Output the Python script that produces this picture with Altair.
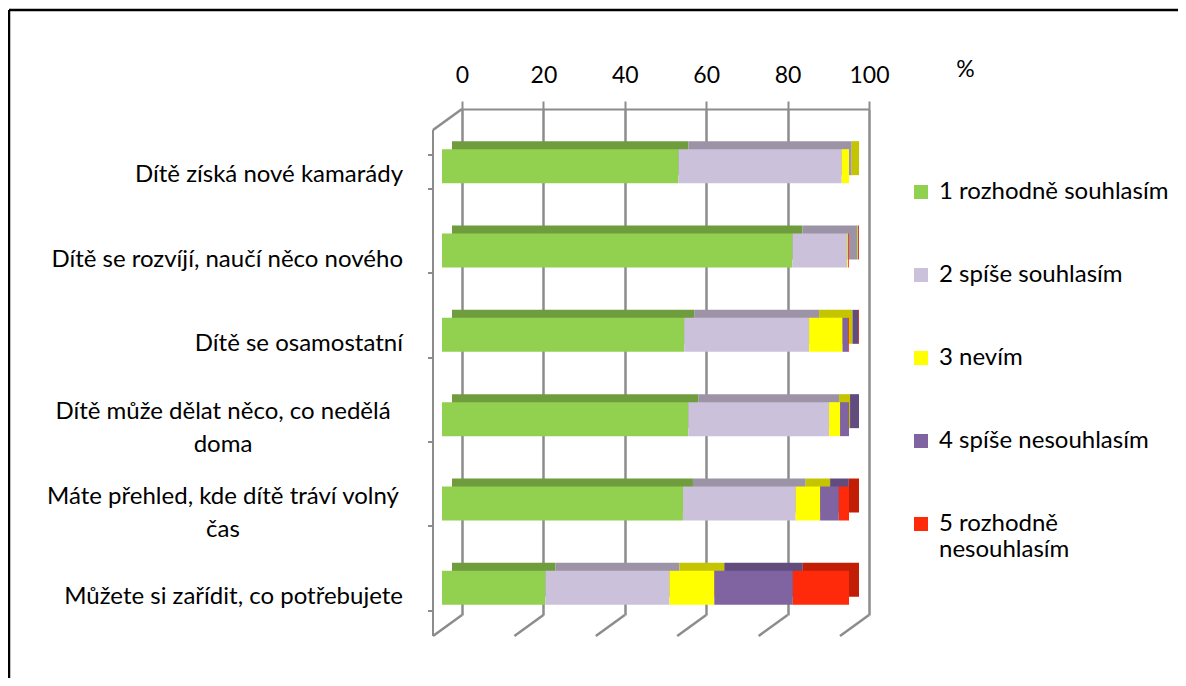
import altair as alt
import pandas as pd

categories = [
    "Dítě získá nové kamarády",
    "Dítě se rozvíjí, naučí něco nového",
    "Dítě se osamostatní",
    "Dítě může dělat něco, co nedělá doma",
    "Máte přehled, kde dítě tráví volný čas",
    "Můžete si zařídit, co potřebujete",
]
series = [
    "1 rozhodně souhlasím",
    "2 spíše souhlasím",
    "3 nevím",
    "4 spíše nesouhlasím",
    "5 rozhodně nesouhlasím",
]
v1 = [58.1, 86.1, 59.5, 60.5, 59.2, 25.4]
v2 = [40.1, 13.5, 30.7, 34.6, 27.7, 30.5]
v3 = [1.8, 0.2, 8.2, 2.7, 6.0, 11.0]
v4 = [0.0, 0.0, 1.4, 2.2, 4.6, 19.3]
v5 = [0.0, 0.2, 0.2, 0.0, 2.5, 13.8]
x_ticks = [0, 20, 40, 60, 80, 100]

front_colors = ["#92D050", "#CCC1DA", "#FFFF00", "#8064A2", "#FF2A0A"]
top_colors = ["#6F9D3D", "#9C93A6", "#C4C400", "#624C7E", "#C21E06"]

rows = []
for si, (s, vals) in enumerate(zip(series, [v1, v2, v3, v4, v5])):
    for c, v in zip(categories, vals):
        rows.append({"cat": c, "series": s, "idx": si, "value": v})
df = pd.DataFrame(rows)
ticks_df = pd.DataFrame({"t": x_ticks})

FONT = "Lato"
GRID = "#8C8C8C"

multi_a = "Dítě může dělat něco, co nedělá doma"
multi_b = "Máte přehled, kde dítě tráví volný čas"
label_expr = (
    f"datum.label == '{multi_a}' ? ['Dítě může dělat něco, co nedělá', 'doma'] : "
    f"datum.label == '{multi_b}' ? ['Máte přehled, kde dítě tráví volný', 'čas'] : datum.label"
)
is_multi = f"datum.value == '{multi_a}' || datum.value == '{multi_b}'"

x_axis = alt.Axis(
    orient="top", values=x_ticks, grid=True, gridColor=GRID, gridWidth=2.5,
    domainColor=GRID, domainWidth=2, tickColor=GRID, tickWidth=2, tickSize=8,
    labelFont=FONT, labelFontSize=23, labelColor="black", labelPadding=14,
    labelFlush=False,
    title="%", titleFont=FONT, titleFontSize=23, titleFontWeight="normal",
    titleColor="black", titleAngle=0, titleX=503, titleY=-40,
    titleAlign="center", titleBaseline="middle",
)
y_axis = alt.Axis(
    title=None, offset=50, translate=21, tickBand="extent",
    domainColor=GRID, domainWidth=2, tickColor=GRID, tickWidth=2, tickSize=5,
    labelFont=FONT, labelFontSize=24, labelColor="black", labelLimit=0,
    labelLineHeight=33, labelExpr=label_expr,
    labelAlign={"condition": {"test": is_multi, "value": "center"}, "value": "right"},
    labelPadding={"condition": {"test": is_multi, "value": 205}, "value": 25},
    labelOffset={"condition": {"test": is_multi, "value": -13}, "value": 3},
)

x_scale = alt.Scale(domain=[0, 100], nice=False)
y_scale = alt.Scale(paddingInner=0.597, paddingOuter=0.2985)

base = alt.Chart(df)

back = base.mark_bar(xOffset=-10, x2Offset=-10, yOffset=7, y2Offset=7).encode(
    x=alt.X("value:Q", stack="zero", scale=x_scale, axis=x_axis),
    y=alt.Y("cat:N", sort=categories, scale=y_scale, axis=y_axis),
    color=alt.Color("series:N", sort=series,
                    scale=alt.Scale(domain=series, range=top_colors), legend=None),
    order=alt.Order("idx:Q"),
)

front = base.mark_bar(xOffset=-20, x2Offset=-20, yOffset=15, y2Offset=15).encode(
    x=alt.X("value:Q", stack="zero", scale=x_scale),
    y=alt.Y("cat:N", sort=categories, scale=y_scale),
    color=alt.Color(
        "series:N", sort=series,
        scale=alt.Scale(domain=series, range=front_colors),
        legend=alt.Legend(
            title=None, orient="none", legendX=447, legendY=71, padding=0,
            symbolType="square", symbolSize=196, symbolStrokeWidth=0,
            labelFont=FONT, labelFontSize=24, labelColor="black", labelOffset=6,
            labelLimit=0, rowPadding=59,
            labelExpr="datum.label == '5 rozhodně nesouhlasím' ? ['5 rozhodně', 'nesouhlasím'] : datum.label",
        ),
    ),
    order=alt.Order("idx:Q"),
)

floor = alt.Chart(ticks_df).mark_rule(
    color=GRID, strokeWidth=2.5, x2Offset=-29
).encode(
    x=alt.X("t:Q", scale=x_scale), x2="t:Q",
    y=alt.value(506), y2=alt.value(527),
)
corner = alt.Chart(ticks_df).transform_filter("datum.t == 0").mark_rule(
    color=GRID, strokeWidth=2.5, x2Offset=-29
).encode(
    x=alt.X("t:Q", scale=x_scale), x2="t:Q",
    y=alt.value(0), y2=alt.value(21),
)

frame = alt.Data(values=[{}])
border_top = alt.Chart(frame).mark_rule(color="black", strokeWidth=2.5).encode(
    x=alt.value(-453), x2=alt.value(720), y=alt.value(-99)
)
border_left = alt.Chart(frame).mark_rule(color="black", strokeWidth=2.5).encode(
    x=alt.value(-453), y=alt.value(-99), y2=alt.value(580)
)

chart = alt.layer(
    floor, corner, back, front, border_top, border_left
).resolve_scale(color="independent").properties(
    width=407, height=506,
    autosize=alt.AutoSizeParams(type="none"),
    padding={"left": 454, "top": 101, "right": 309, "bottom": 63},
    background="white",
).configure_view(strokeWidth=0)

chart.save("out.html", embed_options={"renderer": "svg", "actions": False})
